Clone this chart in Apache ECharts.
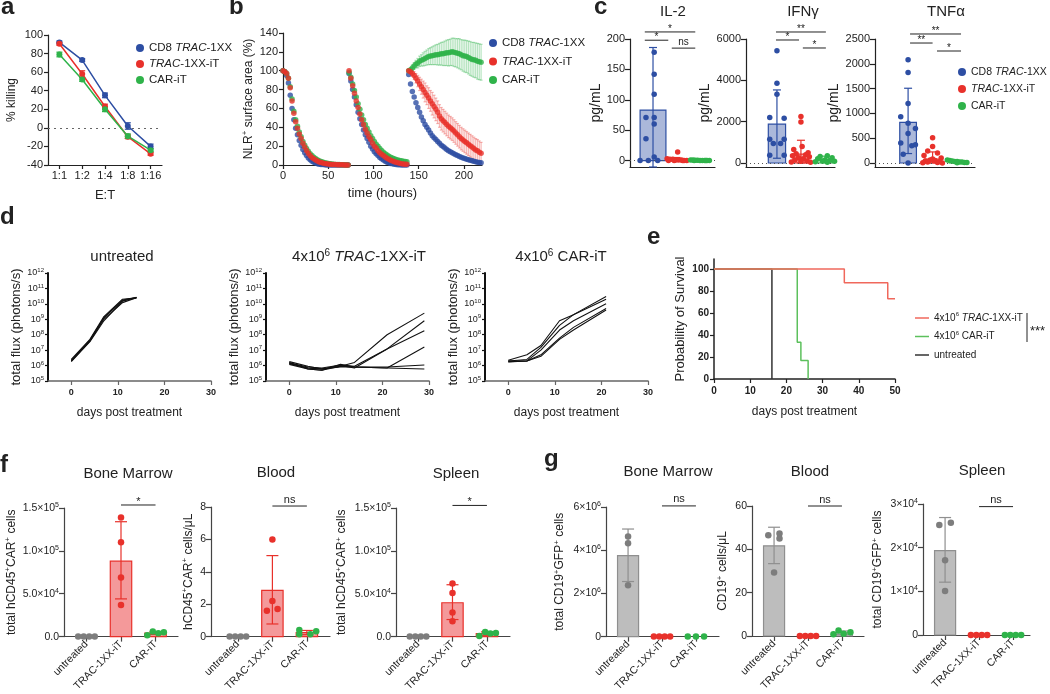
<!DOCTYPE html>
<html><head><meta charset="utf-8">
<script src="https://cdn.jsdelivr.net/npm/echarts@6/dist/echarts.min.js"></script>
<style>html,body{margin:0;padding:0;background:#fff}#c{width:1050px;height:694px}</style>
</head><body><div id="c"></div>
<script>
// ---------------- DATA ----------------
// panel a
const aCats = ['1:1','1:2','1:4','1:8','1:16'];
const aBlue = [92,73,35,2,-20];      const aBlueSD = [1.5,1.5,2.5,3.5,2.5];
const aRed = [90.5,58,23,-9.5,-28];  const aRedSD = [1.5,3.5,2.5,2,1.5];
const aGreen = [79,52,20,-9,-24];    const aGreenSD = [2.5,2,2.5,2.5,1.5];

// panel b (time in hours, NLR+ surface area %)
const bT1 = [0,2,4,6,8,10,12,14,16,18,20,22,24,26,28,30,32,34,36,38,40,42,44,46,48,50,52,54,56,58,60,62,64,66,68,70,72];
const bT2 = [73,75,77,79,81,83,85,87,89,91,93,95,97,99,101,103,105,107,109,111,113,115,117,119,121,123,125,127,129,131,133,135,137];
const bT3 = [139,141,143,145,147,149,151,153,155,157,159,161,163,165,167,169,171,173,175,177,179,181,183,185,187,189,191,193,195,197,199,201,203,205,207,209,211,213,215,217,219];
const bBlue1 = [100,99,95,87,74,60,48,39,32,26,21,16.5,13,10,7.5,5.5,4,2.8,2,1.4,0.9,0.6,0.4,0.2,0.1,0.1,0,0,0,0,0,0,0,0,0,0,0];
const bRed1 = [100,99,97,92,82,68,55,46,39,33,28,23,19,15.5,12.5,10,8,6.5,5.2,4.2,3.3,2.6,2,1.6,1.2,1,0.8,0.6,0.5,0.4,0.3,0.3,0.2,0.2,0.1,0.1,0.1];
const bGreen1 = [100,99,97,92,83,70,57,48,41,35,30,25,21,17.5,14.5,12,10,8.2,6.8,5.6,4.6,3.8,3.1,2.5,2,1.6,1.3,1,0.8,0.6,0.5,0.4,0.3,0.2,0.2,0.1,0.1];
const bBlue2 = [97,89,80,72,64,56,49,43,37,32,28,24,20,17,14,12,10,8,6.5,5.2,4,3,2.3,1.7,1.2,0.8,0.5,0.3,0.2,0.1,0,0,0];
const bRed2 = [100,92,84,76,68,61,54,48,43,38,34,30,27,23,20,18,15,13,11.5,10,8.5,7.2,6,5,4.2,3.5,2.8,2.3,1.8,1.4,1.1,0.9,0.7];
const bGreen2 = [98,93,86,79,72,65,59,53,48,43,39,35,31,28,25,22,20,17.5,15.5,13.5,12,10.5,9.3,8.3,7.4,6.6,5.9,5.3,4.8,4.4,4,3.7,3.4];
const bBlue3 = [96,86,78,72,66,61,56,51,47,43,40,37,34,31,29,27,25,23,21,19.5,18,16.5,15,14,13,12,11,10,9,8.3,7.5,6.8,6.2,5.6,5,4.5,4,3.5,3,2.6,2.3];
const bRed3 = [100,99,97,95,92,89,86,83,80,77,74,71,68,65,62,59,56,52,49,47,45,43,41,39.5,38,36,34,32,30,28,26.5,25,23.5,22,20.5,19,17.5,16,15,13.5,12.5];
const bRed3SD = [1,2,3,4,5,6,7,8,9,10,10,11,11,12,12,12,12,12,12,12,12,12,12,12,12,12,12,12,12,12,12,12,12,12,12,12,12,12,12,12,11.5];
const bGreen3 = [100,101,103,105,107,108,110,111,112,113,114,115,115.5,116,116.5,117,117,117.5,118,118,118.5,119,119,119.5,120,119.5,119,118.5,118,117,116,115.5,115,114,113,112,111.5,111,110,109.5,109];
const bGreen3SD = [1,2,3,3.5,4,5,5.5,6,7,7.5,8,8.5,9,9.5,10,10.5,11,11.5,12,12.5,13,13.5,14,14,14.5,15,15,15.5,16,16,16.5,17,17,17.5,18,18,18.5,18.5,19,19,19];

// panel c (pg/mL) groups: CD8 TRAC-1XX, TRAC-1XX-iT, CAR-iT
const cIL2Blue = [178,142,109,71,71,60,36,6,0,0,0];
const cIL2Red = [14,3,2,2,1,1,1,0,0,0,0,0];
const cIL2Green = [1,1,0.5,0.5,0,0,0,0,0,0,0];
const cIL2Mean = [83,2,0.5]; const cIL2Lo = [-20,0,0]; const cIL2Hi = [186,5,1.2];
const cIFNBlue = [5430,3860,3330,2200,2170,1150,1150,940,940,370,370];
const cIFNRed = [2250,1980,800,650,500,450,400,350,300,250,200,150,100,80,50,30];
const cIFNGreen = [350,320,250,200,150,120,100,80,60,40];
const cIFNMean = [1880,430,150]; const cIFNLo = [230,0,20]; const cIFNHi = [3535,1100,330];
const cTNFBlue = [2080,1825,1200,930,800,695,595,405,370,345,175,0];
const cTNFRed = [510,330,240,200,150,100,80,60,50,40,30,20,10,5,0];
const cTNFGreen = [60,50,40,30,30,20,20,10,10,5];
const cTNFMean = [818,80,25]; const cTNFLo = [190,0,5]; const cTNFHi = [1507,223,50];
// scatter-dot horizontal spread (category units)
const cIL2Jit = [[0.05,0.05,0.05,-0.3,0.05,0.05,-0.3,0.05,-0.55,-0.2,0.2],[0.05,-0.4,-0.28,-0.16,-0.04,0.08,0.2,0.32,0.44,-0.34,-0.1,0.26],[-0.4,-0.3,-0.2,-0.1,0,0.1,0.2,0.3,0.4,-0.25,0.25]];
const cIFNJit = [[0,0,0,-0.3,0.3,-0.3,0.3,-0.15,0.15,-0.3,0.3],[0,0,0.05,-0.3,0.3,-0.2,0.2,-0.35,0.35,-0.1,0.1,-0.25,0.25,0,-0.4,0.4],[0.1,-0.2,0.3,-0.3,0,0.2,-0.1,0.4,-0.4,0.1]];
const cTNFJit = [[0,0,0,-0.3,0,0.3,0,-0.3,0.3,0.15,-0.2,0],[0,0,-0.2,0.2,-0.35,0.35,0,-0.1,0.1,-0.3,0.3,-0.2,0.2,-0.4,0.4],[-0.4,-0.3,-0.2,-0.1,0,0.1,0.2,0.3,0.4,0]];
const cIL2Brk = [[-0.35,1.8,211.6,'*'],[-0.35,0.65,198,'*'],[0.8,1.8,185,'ns']];
const cIFNBrk = [[-0.04,2.04,6339,'**'],[-0.04,0.92,5952,'*'],[1.08,2.04,5565,'*']];
const cTNFBrk = [[0.08,2.16,2601,'**'],[0.08,1.0,2419,'**'],[1.18,2.16,2258,'*']];

// panel d (total flux, photons/s) [day, flux]
const dUntreated = [
  [[0,2.5e6],[4,5e7],[7,1.5e9],[11,2e10],[14,2.5e10]],
  [[0,2e6],[4,4e7],[7,1e9],[11,1.2e10],[14,2.5e10]],
  [[0,1.8e6],[4,3.5e7],[7,8e8],[11,1.5e10],[14,2.7e10]],
  [[0,2.2e6],[4,4.5e7],[7,1.2e9],[11,1.8e10],[14,2.6e10]],
  [[0,2e6],[4,4e7],[7,1.3e9],[11,1.6e10],[14,2.4e10]]
];
const dTRAC = [
  [[0,1.8e6],[4,9e5],[7,6e5],[11,9e5],[14,1.6e6],[21,1e8],[29,2.5e9]],
  [[0,1.5e6],[4,8e5],[7,7e5],[11,1.1e6],[14,9e5],[21,1.2e7],[29,8e8]],
  [[0,1.3e6],[4,7e5],[7,6e5],[11,1e6],[14,7e5],[21,1.2e7],[29,1.8e8]],
  [[0,1.6e6],[4,6e5],[7,5e5],[11,1.2e6],[14,8e5],[21,7e5],[29,1.6e7]],
  [[0,1.4e6],[4,7e5],[7,6e5],[11,8e5],[14,8e5],[21,8e5],[29,1.1e6]],
  [[0,1.2e6],[4,6e5],[7,5e5],[11,9e5],[14,8e5],[21,7e5],[29,6e5]]
];
const dCAR = [
  [[0,2.2e6],[4,5e6],[7,2e7],[11,8e8],[14,2e9],[21,3e10]],
  [[0,2e6],[4,2.5e6],[7,1.5e7],[11,4e8],[14,2e9],[21,2e10]],
  [[0,1.8e6],[4,2e6],[7,1e7],[11,2e8],[14,8e8],[21,1e10]],
  [[0,2e6],[4,2e6],[7,5e6],[11,6e7],[14,3e8],[21,5e9]],
  [[0,1.7e6],[4,2e6],[7,4e6],[11,5e7],[14,2e8],[21,4e9]]
];
const dLogTicks = [1e5,1e6,1e7,1e8,1e9,1e10,1e11,1e12];
const dDayTicks = [0,10,20,30];

// panel e (Kaplan-Meier, % survival) [day, survival]
const eTRAC = [[0,100],[36,87.5],[48,73],[50,73]];
const eCAR = [[0,100],[23,33.3],[24,16.7],[26,0]];
const eUntreated = [[0,100],[16,0]];
const eYTicks = [0,20,40,60,80,100];

// panels f, g
const fgCats = ['untreated','TRAC-1XX-iT','CAR-iT'];
const fBMVals = [[0,0,0,0],[139000,110000,69000,37000],[1500,6100,3800,5000]];
const fBMJit = [[-0.24,-0.08,0.08,0.24],[0,0,0,0],[-0.24,-0.08,0.08,0.24]];
const fBMMean = [0,88000,4100]; const fBMLo = [0,44000,2500]; const fBMHi = [0,134000,5700];
const fBloodVals = [[0,0,0,0],[6.0,2.2,1.6,1.7],[0.41,0.14,0.14,0.33]];
const fBloodJit = [[-0.24,-0.08,0.08,0.24],[0,0,-0.16,0.15],[-0.22,-0.22,0.1,0.27]];
const fBloodMean = [0,2.85,0.25]; const fBloodLo = [0,0.78,0.12]; const fBloodHi = [0,5.0,0.38];
const fSpleenVals = [[0,0,0,0],[62000,51000,28000,18000],[800,5400,3500,4200]];
const fSpleenJit = [[-0.24,-0.08,0.08,0.24],[0,0,0,0],[-0.22,-0.05,0.1,0.26]];
const fSpleenMean = [0,39500,3500]; const fSpleenLo = [0,19900,1500]; const fSpleenHi = [0,60500,5500];
const gBMVals = [[4.63e6,4.32e6,2.38e6],[0,0,0,0],[0,0,0]];
const gBMJit = [[0,0,0],[-0.24,-0.08,0.08,0.24],[-0.24,0,0.24]];
const gBMMean = [3.75e6,0,0]; const gBMLo = [2.55e6,0,0]; const gBMHi = [4.98e6,0,0];
const gBloodVals = [[46.5,47.3,45,29.3],[0,0,0,0],[0.8,2.5,1.0,1.7]];
const gBloodJit = [[-0.17,0.16,0.16,0],[-0.24,-0.08,0.08,0.24],[-0.25,-0.1,0.05,0.25]];
const gBloodMean = [41.6,0,1.5]; const gBloodLo = [33.4,0,0.7]; const gBloodHi = [50.2,0,2.3];
const gSpleenVals = [[25200,25700,17100,10100],[0,0,0,0],[0,0,0,0]];
const gSpleenJit = [[-0.17,0.17,0,0],[-0.24,-0.08,0.08,0.24],[-0.24,-0.08,0.08,0.24]];
const gSpleenMean = [19300,0,0]; const gSpleenLo = [12100,0,0]; const gSpleenHi = [26900,0,0];
const fBMTicks = [0,50000,100000,150000];   const fBMLabels = ['0.0','5.0×10{sup|4}','1.0×10{sup|5}','1.5×10{sup|5}'];
const fBloodTicks = [0,2,4,6,8];            const fBloodLabels = ['0','2','4','6','8'];
const gBMTicks = [0,2e6,4e6,6e6];           const gBMLabels = ['0','2×10{sup|6}','4×10{sup|6}','6×10{sup|6}'];
const gBloodTicks = [0,20,40,60];           const gBloodLabels = ['0','20','40','60'];
const gSpleenTicks = [0,1e4,2e4,3e4];       const gSpleenLabels = ['0','1×10{sup|4}','2×10{sup|4}','3×10{sup|4}'];

// ---------------- STYLE / BUILD ----------------
const F = "'Liberation Sans', Arial, Helvetica, sans-serif";
const INK = '#222';
const BLUE = '#2d4ea3', RED = '#e8312b', GREEN = '#2fb34a', GREY = '#7d7d7d';
const NAMES = ['CD8 TRAC-1XX','TRAC-1XX-iT','CAR-iT'];
const COLORS = [BLUE, RED, GREEN];
const supRich = (fs) => ({sup:{fontSize:fs, fontFamily:F, color:INK, lineHeight:fs+1, padding:[0,0,Math.round(fs*0.9),0]}});

const option = {animation:false, backgroundColor:'#fff', textStyle:{fontFamily:F},
  grid:[], xAxis:[], yAxis:[], series:[], legend:[], graphic:{elements:[]}};

function merge(a,b){ for (const k in b){ const v=b[k];
  if (v && typeof v==='object' && !Array.isArray(v) && a[k] && typeof a[k]==='object' && !Array.isArray(a[k])) merge(a[k],v); else a[k]=v; } return a; }
function baseAxis(){ return {nameLocation:'middle',
  axisLine:{show:true,onZero:false,lineStyle:{color:INK,width:1.2}},
  axisTick:{show:true,length:4,lineStyle:{color:INK,width:1.2}},
  axisLabel:{color:INK,fontSize:11,fontFamily:F,margin:5},
  splitLine:{show:false}, nameTextStyle:{color:INK,fontFamily:F,fontSize:12}}; }
function addGrid(r, xo, yo){
  const i = option.grid.length;
  option.grid.push({left:r[0], top:r[1], width:r[2], height:r[3]});
  option.xAxis.push(merge(merge(baseAxis(),{gridIndex:i}), xo));
  option.yAxis.push(merge(merge(baseAxis(),{gridIndex:i}), yo));
  return i;
}
function S(o){ option.series.push(o); return o; }
function barSeries(gi, means, bw, fill, stroke){
  return {type:'custom', xAxisIndex:gi, yAxisIndex:gi, z:2, silent:true, encode:{x:0,y:1},
    data: means.map((m,i)=>[i,m]).filter(d=>d[1]!==0),
    renderItem(p, api){
      const x=api.value(0), v=api.value(1);
      const a=api.coord([x-bw/2,0]), b=api.coord([x+bw/2,v]);
      return {type:'rect', shape:{x:a[0], y:Math.min(a[1],b[1]), width:b[0]-a[0], height:Math.abs(a[1]-b[1])},
        style:{fill:fill, stroke:stroke, lineWidth:1.2}};
    }};
}
function errSeries(gi, xs, lo, hi, color, cap, yMin){
  return {type:'custom', xAxisIndex:gi, yAxisIndex:gi, z:4, silent:true, encode:{x:0,y:[1,2]},
    data: xs.map((x,i)=>[x, lo[i], hi[i]]).filter(d=>d[2]!==d[1]),
    renderItem(p, api){
      const x=api.value(0); let l=api.value(1); const h=api.value(2);
      if (yMin!==undefined && l<yMin) l=yMin;
      const a=api.coord([x,l]), b=api.coord([x,h]);
      const st={stroke:color, lineWidth:1.2};
      const ch=[{type:'line', shape:{x1:a[0],y1:a[1],x2:b[0],y2:b[1]}, style:st}];
      if (cap>0){
        ch.push({type:'line', shape:{x1:b[0]-cap,y1:b[1],x2:b[0]+cap,y2:b[1]}, style:st});
        ch.push({type:'line', shape:{x1:a[0]-cap,y1:a[1],x2:a[0]+cap,y2:a[1]}, style:st});
      }
      return {type:'group', children:ch};
    }};
}
function bracketSeries(gi, arr, fs){
  return {type:'custom', xAxisIndex:gi, yAxisIndex:gi, z:10, silent:true, encode:{x:[0,1],y:2},
    data: arr.map(d=>[d[0],d[1],d[2]]),
    renderItem(p, api){
      const d=arr[p.dataIndex];
      const a=api.coord([d[0],d[2]]), b=api.coord([d[1],d[2]]);
      return {type:'group', children:[
        {type:'line', shape:{x1:a[0],y1:a[1],x2:b[0],y2:b[1]}, style:{stroke:INK,lineWidth:1}},
        {type:'text', style:{text:d[3], x:(a[0]+b[0])/2, y:a[1]-(d[3]==='ns'?1:-2), textAlign:'center', align:'center',
          textVerticalAlign:'bottom', verticalAlign:'bottom', fontSize:fs, fontFamily:F, fill:INK}}
      ]};
    }};
}
function dots(gi, vals, jit, cat, color, size, name){
  return {type:'scatter', name:name, xAxisIndex:gi, yAxisIndex:gi, z:6, symbolSize:size,
    itemStyle:{color:color, opacity:1}, data: vals.map((v,i)=>[cat+jit[i], v])};
}
function txt(x, y, text, fs, o){
  const st = Object.assign({text:text, x:0, y:0, fill:INK, fontSize:fs, fontFamily:F, fontWeight:'normal',
    textAlign:'center', textVerticalAlign:'middle'}, o||{});
  option.graphic.elements.push({type:'text', x:x, y:y, silent:true, style:st});
}
const legendRich = (fs) => ({n:{fontSize:fs,fontFamily:F,color:INK,lineHeight:14}, i:{fontSize:fs,fontFamily:F,color:INK,fontStyle:'italic',lineHeight:14},
  sup:{fontSize:fs-4,fontFamily:F,color:INK,lineHeight:9,padding:[0,0,7,0]}});
const legendFmt = {'CD8 TRAC-1XX':'{n|CD8 }{i|TRAC}{n|-1XX}','TRAC-1XX-iT':'{i|TRAC}{n|-1XX-iT}','CAR-iT':'{n|CAR-iT}',
  'e1':'{n|4x10}{sup|6}{i| TRAC}{n|-1XX-iT}','e2':'{n|4x10}{sup|6}{n| CAR-iT}','e3':'{n|untreated}'};
function addLegend(l, t, gap, names, fs, extra){
  option.legend.push(merge({left:l, top:t, orient:'vertical', itemGap:gap, itemWidth:8, itemHeight:8, icon:'circle',
    selectedMode:false, padding:0, data:names, formatter:(n)=>legendFmt[n],
    textStyle:{fontSize:fs, fontFamily:F, color:INK, lineHeight:14, rich:legendRich(fs)}}, extra||{}));
}
const plain = (v)=>String(v);

// ---------- panel a ----------
const ga = addGrid([48,35,114,130],
  {type:'category', data:aCats, boundaryGap:true, axisTick:{alignWithLabel:true, interval:0}, axisLabel:{interval:0},
   name:'E:T', nameGap:24, nameTextStyle:{fontSize:13}},
  {type:'value', min:-40, max:100, interval:20, name:'% killing', nameGap:30, nameTextStyle:{fontSize:12}});
[[aBlue,aBlueSD],[aRed,aRedSD],[aGreen,aGreenSD]].forEach((s,k)=>{
  const ser = S({type:'line', name:NAMES[k], xAxisIndex:ga, yAxisIndex:ga, data:s[0], symbol:'circle', symbolSize:6,
    itemStyle:{color:COLORS[k]}, lineStyle:{color:COLORS[k], width:1.5}, z:5});
  if (k===0) ser.markLine = {silent:true, symbol:'none', label:{show:false}, lineStyle:{type:[2,4], color:'#666', width:1}, data:[{yAxis:0}]};
  S(errSeries(ga, [0,1,2,3,4], s[0].map((v,i)=>v-s[1][i]), s[0].map((v,i)=>v+s[1][i]), COLORS[k], 3));
});
addLegend(136, 41, 2, NAMES, 11.5);

// ---------- panel b ----------
const gb = addGrid([283,33,199,132],
  {type:'value', min:0, max:220, interval:50, name:'time (hours)', nameGap:22, nameTextStyle:{fontSize:13}},
  {type:'value', min:0, max:140, interval:20, name:'NLR{sup|+} surface area (%)', nameGap:22,
   nameTextStyle:{fontSize:12, rich:supRich(8)}});
function zipT(ts, vs){ return ts.map((t,i)=>[t, vs[i]]); }
S(errSeries(gb, bT3, bRed3.map((v,i)=>Math.max(0,v-bRed3SD[i])), bRed3.map((v,i)=>v+bRed3SD[i]), 'rgba(232,49,43,0.35)', 1.5));
S(errSeries(gb, bT3, bGreen3.map((v,i)=>v-bGreen3SD[i]), bGreen3.map((v,i)=>v+bGreen3SD[i]), 'rgba(47,179,74,0.35)', 1.5));
S({type:'scatter', name:NAMES[0], xAxisIndex:gb, yAxisIndex:gb, symbolSize:5.5, itemStyle:{color:BLUE}, z:5,
   data:[].concat(zipT(bT1,bBlue1), zipT(bT2,bBlue2), zipT(bT3,bBlue3))});
S({type:'scatter', name:NAMES[2], xAxisIndex:gb, yAxisIndex:gb, symbolSize:5.5, itemStyle:{color:GREEN}, z:5,
   data:[].concat(zipT(bT1,bGreen1), zipT(bT2,bGreen2), zipT(bT3,bGreen3))});
S({type:'scatter', name:NAMES[1], xAxisIndex:gb, yAxisIndex:gb, symbolSize:5.5, itemStyle:{color:RED}, z:5,
   data:[].concat(zipT(bT1,bRed1), zipT(bT2,bRed2), zipT(bT3,bRed3))});
addLegend(489, 36, 4.5, NAMES, 11.5);

// ---------- panel c ----------
function cPanel(rect, xr, yr, ticks, vals, jits, mean, lo, hi, bw, brk, nameGap){
  const gi = addGrid(rect,
    {type:'value', min:xr[0], max:xr[1], axisLabel:{show:false}, axisTick:{show:false}},
    {type:'value', min:yr[0], max:yr[1], axisLabel:{customValues:ticks, formatter:plain}, axisTick:{customValues:ticks, length:5},
     name:'pg/mL', nameGap:nameGap, nameTextStyle:{fontSize:14}});
  const fills = ['rgba(45,78,163,0.4)','rgba(232,49,43,0.4)','rgba(47,179,74,0.4)'];
  for (let k=0;k<3;k++){
    S(barSeries(gi, mean.map((m,i)=>i===k?m:0), bw[k], fills[k], COLORS[k]));
    S(errSeries(gi, [k], [lo[k]], [hi[k]], COLORS[k], 4, yr[0]));
    const d = S(dots(gi, vals[k], jits[k], k, COLORS[k], 5.5, NAMES[k]));
    if (k===0) d.markLine = {silent:true, symbol:'none', label:{show:false}, lineStyle:{type:[1,3], color:'#555', width:1}, data:[{yAxis:0}]};
  }
  S(bracketSeries(gi, brk, 10));
}
cPanel([630,39,85,128], [-0.98,2.64], [-10.6,200], [0,50,100,150,200],
  [cIL2Blue,cIL2Red,cIL2Green], cIL2Jit, cIL2Mean, cIL2Lo, cIL2Hi, [1.1,0.7,0.7], cIL2Brk, 26);
cPanel([746,39,89,128], [-1.29,2.42], [-194,6000], [0,2000,4000,6000],
  [cIFNBlue,cIFNRed,cIFNGreen], cIFNJit, cIFNMean, cIFNLo, cIFNHi, [0.72,0.65,0.65], cIFNBrk, 12);
cPanel([875,39,100,128], [-1.35,2.73], [-81,2500], [0,500,1000,1500,2000,2500],
  [cTNFBlue,cTNFRed,cTNFGreen], cTNFJit, cTNFMean, cTNFLo, cTNFHi, [0.68,0.65,0.65], cTNFBrk, 10);
addLegend(958, 65, 3, NAMES, 10.5);

// ---------- panel d ----------
function dPanel(rect, lines){
  const gi = addGrid(rect,
    {type:'value', min:-5, max:30, axisLine:{lineStyle:{color:'#666',width:1.6}}, axisTick:{customValues:dDayTicks, lineStyle:{color:'#666'}},
     axisLabel:{customValues:dDayTicks, fontSize:9, fontWeight:'bold', margin:7},
     name:'days post treatment', nameGap:26, nameTextStyle:{fontSize:12}},
    {type:'log', logBase:10, min:1e5, max:1e12, axisLine:{lineStyle:{color:'#111',width:2}},
     axisTick:{customValues:dLogTicks, length:3, lineStyle:{color:'#111'}},
     axisLabel:{customValues:dLogTicks, fontSize:9, margin:4, formatter:(v)=>'10{sup|'+Math.round(Math.log10(v))+'}', rich:supRich(6)},
     name:'total flux (photons/s)', nameGap:23, nameTextStyle:{fontSize:13}});
  lines.forEach(l=>S({type:'line', xAxisIndex:gi, yAxisIndex:gi, data:l, showSymbol:false, symbol:'none',
    lineStyle:{color:'#111', width:1.1}, z:3}));
}
dPanel([48,273,163,108], dUntreated);
dPanel([266,273,163,108], dTRAC);
dPanel([485,273,163,108], dCAR);

// ---------- panel e ----------
const ge = addGrid([714,259,181,120],
  {type:'value', min:0, max:50, interval:10, axisLine:{lineStyle:{width:1.5}}, axisLabel:{fontSize:10, fontWeight:'bold', margin:7},
   name:'days post treatment', nameGap:27, nameTextStyle:{fontSize:12}},
  {type:'value', min:0, max:109, axisLine:{lineStyle:{width:1.5}}, axisLabel:{customValues:eYTicks, fontSize:10, fontWeight:'bold'},
   axisTick:{customValues:eYTicks}, name:'Probability of Survival', nameGap:27, nameTextStyle:{fontSize:13}});
S({type:'line', name:'e3', xAxisIndex:ge, yAxisIndex:ge, step:'end', data:eUntreated, showSymbol:false, symbol:'none',
   itemStyle:{color:'#333'}, lineStyle:{color:'#333', width:1.5}, z:3});
S({type:'line', name:'e2', xAxisIndex:ge, yAxisIndex:ge, step:'end', data:eCAR, showSymbol:false, symbol:'none',
   itemStyle:{color:'#5cc05c'}, lineStyle:{color:'#5cc05c', width:1.5}, z:4});
S({type:'line', name:'e1', xAxisIndex:ge, yAxisIndex:ge, step:'end', data:eTRAC, showSymbol:false, symbol:'none',
   itemStyle:{color:'#f0685c'}, lineStyle:{color:'#f0685c', width:1.5}, z:5});
addLegend(915, 311, 4.5, ['e1','e2','e3'], 10, {icon:'rect', itemWidth:14, itemHeight:1.5});

// ---------- panels f, g ----------
function fgPanel(rect, xr, yr, ticks, labels, yName, nameGap, vals, jits, mean, lo, hi, brk, barFill, barStroke){
  const gi = addGrid(rect,
    {type:'value', min:xr[0], max:xr[1], axisLine:{lineStyle:{color:'#444'}},
     axisTick:{customValues:[0,1,2], length:5, lineStyle:{color:'#444'}},
     axisLabel:{customValues:[0,1,2], rotate:45, fontSize:10.5, margin:6, formatter:(v)=>fgCats[Math.round(v)]}},
    {type:'value', min:yr[0], max:yr[1], axisLine:{lineStyle:{color:'#444'}}, axisTick:{customValues:ticks, length:5, lineStyle:{color:'#444'}},
     axisLabel:{customValues:ticks, fontSize:10.5, formatter:(v)=>labels[ticks.indexOf(v)], rich:supRich(7)},
     name:yName, nameGap:nameGap, nameTextStyle:{fontSize:12, rich:supRich(8)}});
  const dotCols = [GREY, RED, GREEN];
  S(barSeries(gi, mean, 0.62, barFill, barStroke));
  S(errSeries(gi, [0,1,2], lo, hi, barStroke, 6));
  for (let k=0;k<3;k++) S(dots(gi, vals[k], jits[k], k, dotCols[k], 6.5));
  S(bracketSeries(gi, brk, 11));
}
fgPanel([64,508,114,131], [-0.65,2.65], [0,150000], fBMTicks, fBMLabels, 'total hCD45{sup|+}CAR{sup|+} cells', 46,
  fBMVals, fBMJit, fBMMean, fBMLo, fBMHi, [[1,2,153500,'*']], '#f4999a', RED);
fgPanel([211,507,119,130], [-0.78,2.67], [0,8], fBloodTicks, fBloodLabels, 'hCD45{sup|+}CAR{sup|+} cells/μL', 13,
  fBloodVals, fBloodJit, fBloodMean, fBloodLo, fBloodHi, [[1,2,8.06,'ns']], '#f4999a', RED);
fgPanel([396,508,114,130], [-0.64,2.67], [0,150000], fBMTicks, fBMLabels, 'total hCD45{sup|+}CAR{sup|+} cells', 48,
  fSpleenVals, fSpleenJit, fSpleenMean, fSpleenLo, fSpleenHi, [[1,2,153000,'*']], '#f4999a', RED);
fgPanel([606,507,113,131], [-0.65,2.68], [0,6e6], gBMTicks, gBMLabels, 'total CD19{sup|+}GFP{sup|+} cells', 40,
  gBMVals, gBMJit, gBMMean, gBMLo, gBMHi, [[1,2,6.05e6,'ns']], '#bdbdbd', '#8f8f8f');
fgPanel([752,506,112,130], [-0.65,2.65], [0,60], gBloodTicks, gBloodLabels, 'CD19{sup|+} cells/μL', 23,
  gBloodVals, gBloodJit, gBloodMean, gBloodLo, gBloodHi, [[1,2,60,'ns']], '#bdbdbd', '#8f8f8f');
fgPanel([923,504,107,131], [-0.65,2.5], [0,30000], gSpleenTicks, gSpleenLabels, 'total CD19{sup|+}GFP{sup|+} cells', 39,
  gSpleenVals, gSpleenJit, gSpleenMean, gSpleenLo, gSpleenHi, [[1,2,29400,'ns']], '#bdbdbd', '#8f8f8f');

// ---------- free text: panel letters, titles ----------
const L = {fontWeight:'bold', textAlign:'left', textVerticalAlign:'bottom'};
txt(1, 19, 'a', 24, L); txt(229, 19, 'b', 24, L); txt(594, 19, 'c', 24, L);
txt(0, 229, 'd', 24, L); txt(647, 249, 'e', 24, L); txt(0, 477, 'f', 24, L); txt(544, 471, 'g', 24, L);
txt(673, 12, 'IL-2', 15); txt(803, 12, 'IFNγ', 15); txt(946, 12, 'TNFα', 15);
const titleRich = {n:{fontSize:15,fontFamily:F,fill:INK,color:INK,lineHeight:18}, i:{fontSize:15,fontFamily:F,fontStyle:'italic',fill:INK,color:INK,lineHeight:18},
  sup:{fontSize:10,fontFamily:F,fill:INK,color:INK,lineHeight:11,padding:[0,0,8,0]}};
txt(122, 257, '{n|untreated}', 15, {rich:titleRich});
txt(359, 257, '{n|4x10}{sup|6}{i| TRAC}{n|-1XX-iT}', 15, {rich:titleRich});
txt(561, 257, '{n|4x10}{sup|6}{n| CAR-iT}', 15, {rich:titleRich});
txt(128, 474, 'Bone Marrow', 15); txt(276, 473, 'Blood', 15); txt(456, 474, 'Spleen', 15);
txt(668, 472, 'Bone Marrow', 15); txt(810, 472, 'Blood', 15); txt(982, 471, 'Spleen', 15);
option.graphic.elements.push({type:'line', silent:true, shape:{x1:1027,y1:313,x2:1027,y2:342}, style:{stroke:INK, lineWidth:1}});
txt(1030, 331, '***', 13, {textAlign:'left'});

const chart = echarts.init(document.getElementById('c'), null, {renderer:'canvas'});
chart.setOption(option);
</script></body></html>
